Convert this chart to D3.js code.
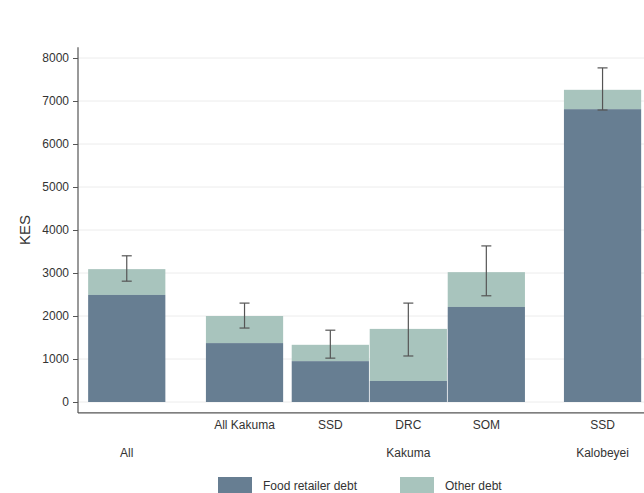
<!DOCTYPE html>
<html>
<head>
<meta charset="utf-8">
<script src="https://cdn.jsdelivr.net/npm/d3@7"></script>
<style>
  html, body { margin: 0; padding: 0; background: #fff; }
  svg { display: block; font-family: "Liberation Sans", Arial, sans-serif; }
</style>
</head>
<body>
<svg id="chart" width="644" height="493"></svg>
<script>
// ---- Data ----
const barLabels = ["", "All Kakuma", "SSD", "DRC", "SOM", "SSD"];
const groupLabels = ["All", "Kakuma", "Kakuma", "Kakuma", "Kakuma", "Kalobeyei"];
const foodDebt = [2490, 1370, 950, 490, 2210, 6810];
const totalDebt = [3090, 2000, 1330, 1700, 3020, 7260];
const ciLow = [2810, 1720, 1020, 1070, 2470, 6790];
const ciHigh = [3400, 2300, 1670, 2300, 3630, 7770];
const yTicks = [0, 1000, 2000, 3000, 4000, 5000, 6000, 7000, 8000];
const seriesNames = ["Food retailer debt", "Other debt"];

// ---- Layout ----
const colors = ["#677e92", "#a8c4bd"];
const svg = d3.select("#chart");
const plotLeft = 78, plotRight = 644;

const y = d3.scaleLinear().domain([0, 8000]).range([402, 58]);
const yTop = y(8250), yBottom = y(-255);

// unit positions for bars (gaps are layout choices)
const gapsBefore = [0.13, 0.52, 0.11, 0.01, 0.01, 0.5];
const barW = 0.99;
let pos = [], cur = 0;
gapsBefore.forEach((g, i) => { cur += g; pos.push(cur); cur += barW; });
const x = d3.scaleLinear().domain([0, 1]).range([plotLeft, plotLeft + 78]);

// gridlines
svg.append("g").selectAll("line").data(yTicks).join("line")
  .attr("x1", plotLeft).attr("x2", plotRight)
  .attr("y1", d => y(d)).attr("y2", d => y(d))
  .attr("stroke", "#ececec").attr("stroke-width", 1);

// bars
const bars = svg.append("g");
barLabels.forEach((_, i) => {
  const x0 = x(pos[i]), w = x(pos[i] + barW) - x(pos[i]);
  bars.append("rect").attr("x", x0).attr("width", w)
    .attr("y", y(totalDebt[i])).attr("height", y(foodDebt[i]) - y(totalDebt[i]))
    .attr("fill", colors[1]);
  bars.append("rect").attr("x", x0).attr("width", w)
    .attr("y", y(foodDebt[i])).attr("height", y(0) - y(foodDebt[i]))
    .attr("fill", colors[0]);
});

// error bars
const eb = svg.append("g").attr("stroke", "#555").attr("stroke-width", 1.2);
barLabels.forEach((_, i) => {
  const cx = x(pos[i] + barW / 2);
  eb.append("line").attr("x1", cx).attr("x2", cx).attr("y1", y(ciLow[i])).attr("y2", y(ciHigh[i]));
  eb.append("line").attr("x1", cx - 5).attr("x2", cx + 5).attr("y1", y(ciLow[i])).attr("y2", y(ciLow[i]));
  eb.append("line").attr("x1", cx - 5).attr("x2", cx + 5).attr("y1", y(ciHigh[i])).attr("y2", y(ciHigh[i]));
});

// y axis
const yAxis = d3.axisLeft(y).tickValues(yTicks).tickSize(5).tickPadding(4).tickFormat(d3.format("d"));
const ya = svg.append("g").attr("transform", `translate(${plotLeft},0)`).call(yAxis);
ya.select(".domain").remove();
ya.selectAll(".tick line").attr("stroke", "#555");
ya.selectAll(".tick text").attr("fill", "#333").style("font-size", "12px");
svg.append("line").attr("x1", plotLeft).attr("x2", plotLeft).attr("y1", yTop).attr("y2", yBottom)
  .attr("stroke", "#555").attr("stroke-width", 1.2);
svg.append("line").attr("x1", plotLeft).attr("x2", plotRight).attr("y1", yBottom).attr("y2", yBottom)
  .attr("stroke", "#555").attr("stroke-width", 1.2);

svg.append("text").attr("transform", `translate(30,${y(4000)}) rotate(-90)`)
  .attr("text-anchor", "middle").style("font-size", "15px").attr("fill", "#333").text("KES");

// x labels
const xl = svg.append("g").style("font-size", "12px").attr("fill", "#333").attr("text-anchor", "middle");
barLabels.forEach((lab, i) => {
  if (lab) xl.append("text").attr("x", x(pos[i] + barW / 2)).attr("y", 429).text(lab);
});
// group labels: centred under their sub-groups
const groups = [];
groupLabels.forEach((g, i) => {
  const last = groups[groups.length - 1];
  if (last && last.name === g) last.idx.push(i); else groups.push({ name: g, idx: [i] });
});
groups.forEach(g => {
  let idx = g.idx;
  if (idx.length > 1) idx = idx.filter(i => !barLabels[i].startsWith("All"));
  const xs = idx.map(i => x(pos[i] + barW / 2));
  xl.append("text").attr("x", d3.mean(xs)).attr("y", 457).text(g.name);
});

// legend
const legX = [218, 400];
const leg = svg.append("g");
seriesNames.forEach((n, i) => {
  leg.append("rect").attr("x", legX[i]).attr("y", 477).attr("width", 34).attr("height", 17).attr("fill", colors[i]);
  leg.append("text").attr("x", legX[i] + 45).attr("y", 490).style("font-size", "12px").attr("fill", "#333").text(n);
});
</script>
</body>
</html>
